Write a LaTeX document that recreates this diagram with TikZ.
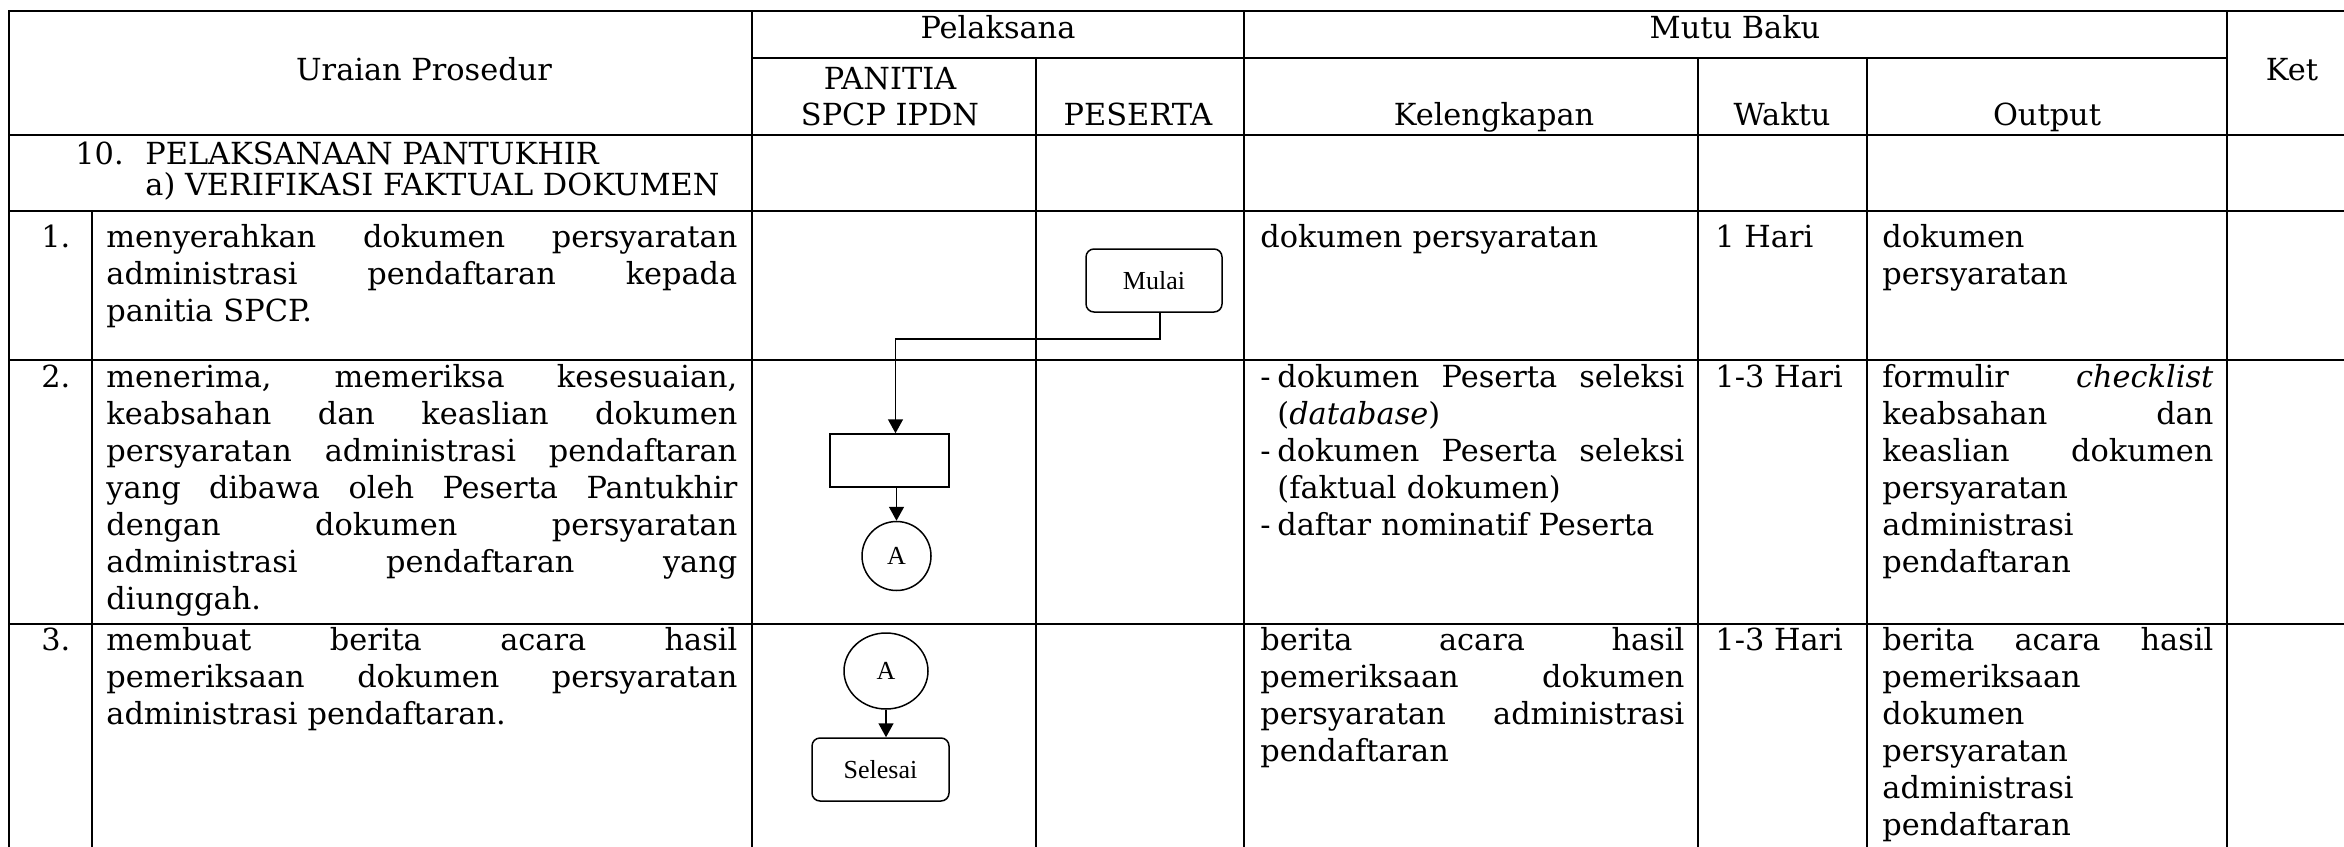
\documentclass[tikz,border=0pt]{standalone}
\usepackage{fontspec}
\setmainfont{DejaVu Serif}
\newfontfamily\fcfont{Liberation Serif}
\usetikzlibrary{arrows.meta,shapes.geometric}
\newcommand\mybody{\fontsize{15.2pt}{18.5pt}\selectfont}
\newcommand\jl[2]{\leavevmode\hbox to #1{\spaceskip=0.318em plus 1fil\xspaceskip=0.318em plus 1fil\relax #2}}
\newlength\wu \setlength\wu{315.5pt}
\newlength\wk \setlength\wk{212pt}
\newlength\wkb \setlength\wkb{203.5pt}
\newlength\wo \setlength\wo{165.5pt}
\newcommand\dsh{\makebox[8.5pt][l]{-}}
\begin{document}
\begin{tikzpicture}[x=0.5pt,y=-0.5pt,
  tl/.style={line width=1pt, line cap=rect},
  body/.style={inner sep=0pt, anchor=base west, font=\mybody},
  para/.style={body, align=left, text width=#1},
  hdr/.style={inner sep=0pt, anchor=base, font=\mybody},
  fc/.style={draw, line width=0.75pt, inner sep=0pt, font=\fcfont\fontsize{13pt}{15pt}\selectfont},
  term/.style={fc, rounded corners=4pt, minimum width=68pt, minimum height=31.5pt},
  procbox/.style={fc, rectangle, minimum width=59.5pt, minimum height=26.5pt},
  arr/.style={line width=0.75pt, -{Triangle[length=7pt,width=7.5pt]}}
]
\useasboundingbox (0,0) rectangle (2344,846);
\clip (0,0) rectangle (2344,846);
% table grid
\draw[tl] (9,11) -- (2350,11);
\draw[tl] (752,58) -- (2227,58);
\draw[tl] (9,135) -- (2350,135);
\draw[tl] (9,211) -- (2350,211);
\draw[tl] (9,360) -- (2350,360);
\draw[tl] (9,624) -- (2350,624);
\draw[tl] (9,11) -- (9,850);
\draw[tl] (92,211) -- (92,850);
\draw[tl] (752,11) -- (752,850);
\draw[tl] (1036,58) -- (1036,850);
\draw[tl] (1244,11) -- (1244,850);
\draw[tl] (1698,58) -- (1698,850);
\draw[tl] (1867,58) -- (1867,850);
\draw[tl] (2227,11) -- (2227,850);
% headers
\node[hdr] (huraian) at (424,80) {Uraian Prosedur};
\node[hdr] (hpel) at (998,38) {Pelaksana};
\node[hdr] (hmutu) at (1735,38) {Mutu Baku};
\node[hdr] (hket) at (2292,80) {Ket};
\node[hdr, align=center, font=\fontsize{15.2pt}{18pt}\selectfont] (hpanitia) at (890,125) {PANITIA\\SPCP IPDN};
\node[hdr] (hpeserta) at (1138,125) {PESERTA};
\node[hdr] (hkel) at (1494,125) {Kelengkapan};
\node[hdr] (hwaktu) at (1782,125) {Waktu};
\node[hdr] (houtput) at (2047,125) {Output};
% section row
\node[body] (n10) at (75,164) {10.};
\node[body, align=left, font=\fontsize{15.2pt}{15.5pt}\selectfont] (sec) at (145,195) {PELAKSANAAN PANTUKHIR\\a) VERIFIKASI FAKTUAL DOKUMEN};
% row 1
\node[body] (r1n) at (41,247) {1.};
\node[para=\wu] (r1u) at (106,247) {\jl{\wu}{menyerahkan dokumen persyaratan}\\\jl{\wu}{administrasi pendaftaran kepada}\\panitia SPCP.};
\node[para=\wk] (r1k) at (1260,247) {dokumen persyaratan};
\node[body] (r1w) at (1715,247) {1 Hari};
\node[para=\wo] (r1o) at (1882,247) {dokumen\\persyaratan};
% row 2
\node[body] (r2n) at (41,387) {2.};
\node[para=\wu] (r2u) at (106,387) {\jl{\wu}{menerima, memeriksa kesesuaian,}\\\jl{\wu}{keabsahan dan keaslian dokumen}\\\jl{\wu}{persyaratan administrasi pendaftaran}\\\jl{\wu}{yang dibawa oleh Peserta Pantukhir}\\\jl{\wu}{dengan dokumen persyaratan}\\\jl{\wu}{administrasi pendaftaran yang}\\diunggah.};
\node[para=\wk] (r2k) at (1260,387) {\dsh\jl{\wkb}{dokumen Peserta seleksi}\\\hspace*{8.5pt}(\textit{database})\\\dsh\jl{\wkb}{dokumen Peserta seleksi}\\\hspace*{8.5pt}(faktual dokumen)\\\dsh daftar nominatif Peserta};
\node[body] (r2w) at (1715,387) {1-3 Hari};
\node[para=\wo] (r2o) at (1882,387) {\jl{\wo}{formulir \textit{checklist}}\\\jl{\wo}{keabsahan dan}\\\jl{\wo}{keaslian dokumen}\\persyaratan\\administrasi\\pendaftaran};
% row 3
\node[body] (r3n) at (41,650) {3.};
\node[para=\wu] (r3u) at (106,650) {\jl{\wu}{membuat berita acara hasil}\\\jl{\wu}{pemeriksaan dokumen persyaratan}\\administrasi pendaftaran.};
\node[para=\wk] (r3k) at (1260,650) {\jl{\wk}{berita acara hasil}\\\jl{\wk}{pemeriksaan dokumen}\\\jl{\wk}{persyaratan administrasi}\\pendaftaran};
\node[body] (r3w) at (1715,650) {1-3 Hari};
\node[para=\wo] (r3o) at (1882,650) {\jl{\wo}{berita acara hasil}\\pemeriksaan\\dokumen\\persyaratan\\administrasi\\pendaftaran};
% flowchart
\node[term] (mulai) at (1154,280.5) {Mulai};
\node[procbox] (proc) at (889.5,460.5) {};
\node[fc, circle, minimum size=34.5pt] (ca) at (896.5,556) {A};
\node[fc, ellipse, minimum width=42pt, minimum height=38pt] (cb) at (886,671) {A};
\node[term, minimum width=68.5pt] (selesai) at (880.5,769.5) {Selesai};
\draw[arr] ([xshift=3pt]mulai.south) -- ++(0,26) -| ([xshift=3pt]proc.north);
\draw[arr] (ca.north |- proc.south) -- (ca.north);
\draw[arr] (cb.south) -- (cb.south |- selesai.north);
\end{tikzpicture}
\end{document}
